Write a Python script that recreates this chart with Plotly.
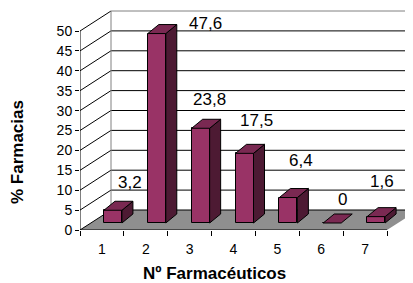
import plotly.graph_objects as go

# ---- data ----
categories = [1, 2, 3, 4, 5, 6, 7]
values = [3.2, 47.6, 23.8, 17.5, 6.4, 0, 1.6]
value_labels = ["3,2", "47,6", "23,8", "17,5", "6,4", "0", "1,6"]
y_ticks = [0, 5, 10, 15, 20, 25, 30, 35, 40, 45, 50]
x_title = "Nº Farmacéuticos"
y_title = "% Farmacias"

# ---- style / geometry (pseudo-3D, in axis units) ----
OFF = 8                      # page body margin
W, H = 413 - OFF, 283 - OFF
ML, MR, MT, MB = 80 - OFF, 0, 0, 53
PX_X = 43.86   # px per category
PX_Y = 3.98    # px per y unit
WALL_DX = 31 / PX_X
WALL_DY = 20 / PX_Y
BAR_SHIFT_X = 11 / PX_X
BAR_BASE = 7 / PX_Y
BAR_W = 18 / PX_X
BAR_DX = 11 / PX_X
BAR_DY = 9 / PX_Y
label_shift = [(28, 35), (60, 17), (20, 36), (23, 40), (24, 44), (21, 31), (17, 42)]

FRONT = "#993366"
TOP = "#7a2952"
SIDE = "#4d1a33"
FLOOR = "#8f8f8f"

PW = W - ML - MR
PH = H - MT - MB
XMAX = 0.5 + PW / PX_X
YMAX = PH / PX_Y

fig = go.Figure()

shapes = []
# floor
fx0, fx1 = 0.5, 7.5
shapes.append(dict(type="path", xref="x", yref="y", layer="below",
                   path=f"M {fx0},0 L {fx1},0 L {fx1+WALL_DX},{WALL_DY} L {fx0+WALL_DX},{WALL_DY} Z",
                   fillcolor=FLOOR, line=dict(width=0)))
# back wall gridlines and side wall diagonals
for v in y_ticks:
    shapes.append(dict(type="line", xref="x", yref="y", layer="below",
                       x0=0.5 + WALL_DX, x1=XMAX + 1, y0=v + WALL_DY, y1=v + WALL_DY,
                       line=dict(color="#000000" if v < 50 else "#808080", width=1)))
    shapes.append(dict(type="line", xref="x", yref="y", layer="below",
                       x0=0.5, x1=0.5 + WALL_DX, y0=v, y1=v + WALL_DY,
                       line=dict(color="#000000", width=1)))
# back wall left edge
shapes.append(dict(type="line", xref="x", yref="y", layer="below",
                   x0=0.5 + WALL_DX, x1=0.5 + WALL_DX, y0=WALL_DY, y1=50 + WALL_DY,
                   line=dict(color="#808080", width=1)))
# front axes lines
shapes.append(dict(type="line", xref="x", yref="y", layer="above",
                   x0=0.5, x1=0.5, y0=0, y1=50, line=dict(color="#000000", width=1)))
shapes.append(dict(type="line", xref="x", yref="y", layer="above",
                   x0=0.5, x1=7.5, y0=0, y1=0, line=dict(color="#000000", width=1)))

# front faces of bars
bar_x = [c + BAR_SHIFT_X for c in categories]
fig.add_trace(go.Bar(x=bar_x, y=values, base=[BAR_BASE] * len(values), width=BAR_W,
                     marker=dict(color=FRONT, line=dict(color="#000000", width=1)),
                     hoverinfo="skip", showlegend=False))

# top and side faces
top_x, top_y, side_x, side_y = [], [], [], []
for c, v in zip(categories, values):
    xl = c + BAR_SHIFT_X - BAR_W / 2
    xr = c + BAR_SHIFT_X + BAR_W / 2
    yt = BAR_BASE + v
    top_x += [xl, xr, xr + BAR_DX, xl + BAR_DX, xl, None]
    top_y += [yt, yt, yt + BAR_DY, yt + BAR_DY, yt, None]
    if v > 0:
        side_x += [xr, xr + BAR_DX, xr + BAR_DX, xr, xr, None]
        side_y += [BAR_BASE, BAR_BASE + BAR_DY, yt + BAR_DY, yt, BAR_BASE, None]

fig.add_trace(go.Scatter(x=side_x, y=side_y, mode="lines", fill="toself", fillcolor=SIDE,
                         line=dict(color="#000000", width=1), hoverinfo="skip", showlegend=False))
fig.add_trace(go.Scatter(x=top_x, y=top_y, mode="lines", fill="toself", fillcolor=TOP,
                         line=dict(color="#000000", width=1), hoverinfo="skip", showlegend=False))

FONT = "Liberation Sans, Arial"
annotations = []
for c, v, t, (sx, sy) in zip(categories, values, value_labels, label_shift):
    annotations.append(dict(x=c, y=v, xref="x", yref="y", text=t, showarrow=False,
                            xshift=sx, yshift=sy, xanchor="center", yanchor="middle",
                            font=dict(family=FONT, size=17, color="#000000")))
# axis titles (positions given in page px, converted to paper)
def to_paper(px, py):
    return (px - OFF - ML) / PW, (H - MB - (py - OFF)) / PH

tx, ty = to_paper(214, 273)
annotations.append(dict(x=tx, y=ty, xref="paper", yref="paper", xanchor="center", yanchor="middle",
                        text=f"<b>{x_title}</b>", showarrow=False,
                        font=dict(family=FONT, size=17, color="#000000")))
tx, ty = to_paper(17, 152)
annotations.append(dict(x=tx, y=ty, xref="paper", yref="paper", xanchor="center", yanchor="middle",
                        text=f"<b>{y_title}</b>", showarrow=False, textangle=-90,
                        font=dict(family=FONT, size=17, color="#000000")))

fig.update_layout(
    width=W, height=H,
    margin=dict(l=ML, r=MR, t=MT, b=MB, autoexpand=False),
    paper_bgcolor="#ffffff", plot_bgcolor="rgba(0,0,0,0)",
    shapes=shapes, annotations=annotations, bargap=0,
    font=dict(family=FONT, color="#000000"),
    xaxis=dict(range=[0.5, XMAX], tickvals=categories, ticktext=[str(c) for c in categories],
               ticks="", showgrid=False, zeroline=False, showline=False, automargin=False,
               tickfont=dict(size=14), fixedrange=True, ticklabelstandoff=9,
               minor=dict(tickvals=[c - 0.5 for c in categories] + [7.5], ticks="outside",
                          ticklen=5, tickcolor="#000000", showgrid=False)),
    yaxis=dict(range=[0, YMAX], tickvals=y_ticks, ticks="outside", ticklen=4, tickcolor="#000000",
               showgrid=False, zeroline=False, showline=False, tickfont=dict(size=14),
               automargin=False, fixedrange=True),
)

fig.write_html("out.html")
